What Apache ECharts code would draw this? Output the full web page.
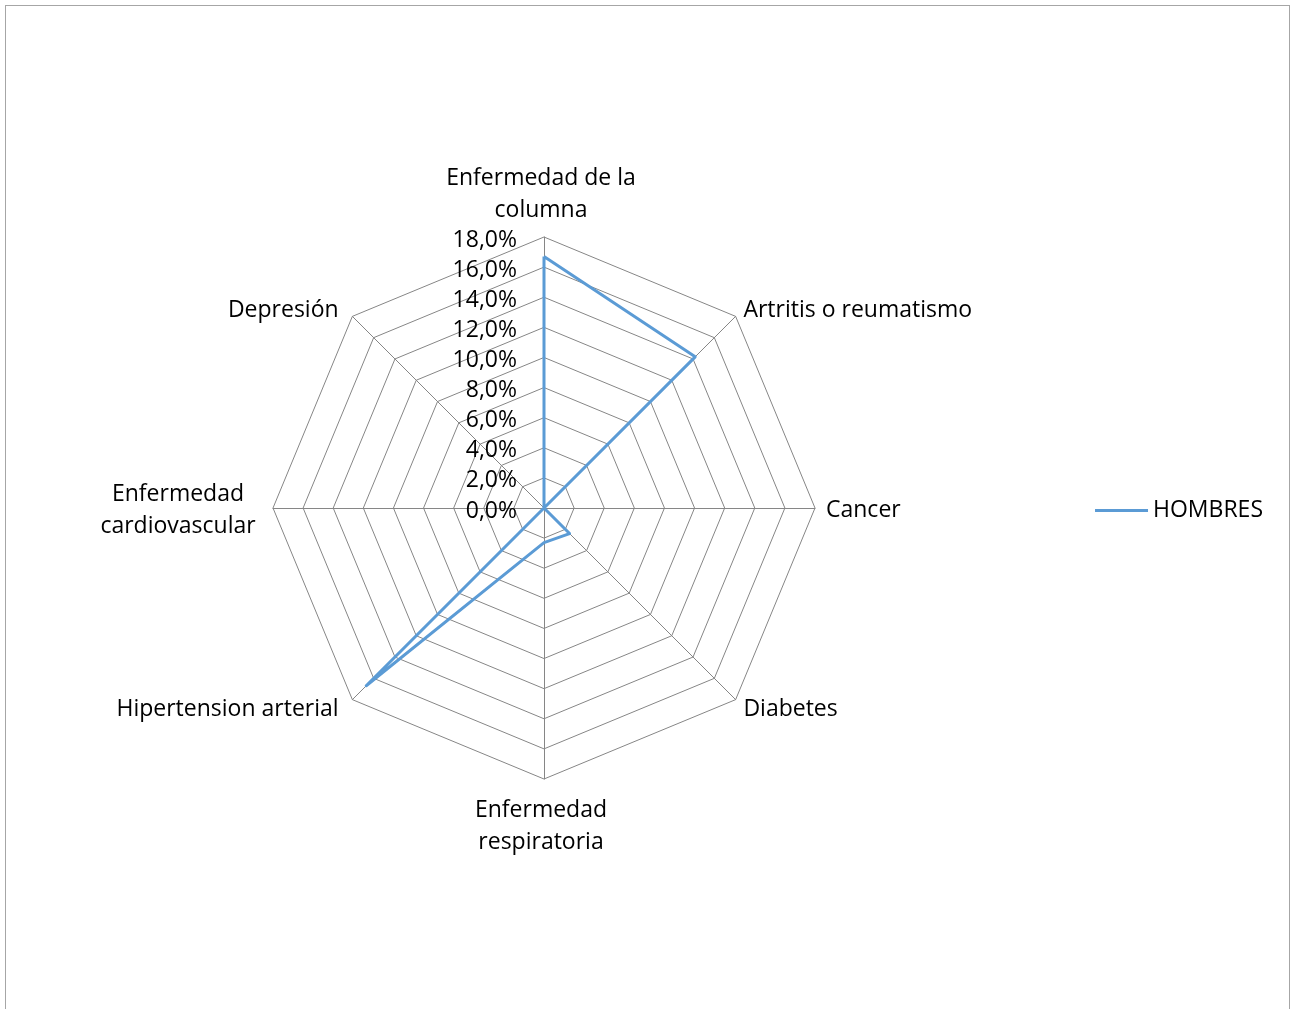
<!DOCTYPE html>
<html>
<head>
<meta charset="utf-8">
<script src="https://cdn.jsdelivr.net/npm/echarts@6/dist/echarts.min.js"></script>
<style>
  html, body { margin: 0; padding: 0; background: #fff; overflow: hidden; }
  #frame { position: absolute; left: 5px; top: 5px; width: 1285px; height: 1020px; border: 1px solid #a6a6a6; box-sizing: border-box; }
  #chart { position: absolute; left: 0; top: 0; width: 1297px; height: 1009px; }
</style>
</head>
<body>
<div id="frame"></div>
<div id="chart"></div>
<script>
// Disease categories, clockwise from the top
const categories = [
  'Enfermedad de la\ncolumna',
  'Artritis o reumatismo',
  'Cancer',
  'Diabetes',
  'Enfermedad\nrespiratoria',
  'Hipertension arterial',
  'Enfermedad\ncardiovascular',
  'Depresión'
];
// Percentage of men (HOMBRES) per category
const hombres = [16.7, 14.2, 0.0, 2.4, 2.3, 16.7, 0.0, 0.0];
const seriesName = 'HOMBRES';
const axisMax = 18;
const axisStep = 2;

// ECharts lays radar indicators counter-clockwise, so keep the first
// one at the top and reverse the rest to read clockwise.
const order = [0].concat(categories.map((_, i) => i).slice(1).reverse());

const FONT = 'Open Sans';
const FONT_SIZE = 23;

// Widest line of a multi-line name, so its lines can be centred on each other
const measureCtx = document.createElement('canvas').getContext('2d');
measureCtx.font = FONT_SIZE + 'px "' + FONT + '"';
function widestLine(text) {
  return Math.ceil(Math.max.apply(null, text.split('\n').map(l => measureCtx.measureText(l).width)));
}

const chart = echarts.init(document.getElementById('chart'));

chart.setOption({
  animation: false,
  textStyle: { fontFamily: FONT },
  legend: {
    data: [seriesName],
    right: 29,
    top: 494,
    icon: 'rect',
    itemWidth: 53,
    itemHeight: 3,
    itemGap: 5,
    textStyle: { fontFamily: FONT, fontSize: FONT_SIZE, color: '#000', padding: [0, 0, 0, 0] }
  },
  radar: {
    center: [544, 508],
    radius: 271,
    startAngle: 90,
    shape: 'polygon',
    splitNumber: axisMax / axisStep,
    axisName: {
      color: '#000',
      fontFamily: FONT,
      fontSize: FONT_SIZE,
      lineHeight: 32,
      padding: [4, 6, 0, 0],
      formatter: function (name) {
        if (name.indexOf('\n') < 0) return name;
        return name.split('\n').map(l => '{c|' + l + '}').join('\n');
      },
      rich: {
        c: { fontFamily: FONT, fontSize: FONT_SIZE, lineHeight: 32, color: '#000', align: 'center',
             width: widestLine('Enfermedad\ncardiovascular') }
      }
    },
    nameGap: 11,
    axisLine: { lineStyle: { color: '#868686', width: 1 } },
    splitLine: { lineStyle: { color: '#868686', width: 1 } },
    splitArea: { show: false },
    axisTick: { show: false },
    axisLabel: { show: false },
    indicator: order.map((i, k) => {
      const ind = { name: categories[i], min: 0, max: axisMax };
      if (k === 0) {
        ind.axisLabel = {
          show: true,
          color: '#000',
          fontFamily: FONT,
          fontSize: FONT_SIZE,
          margin: 27,
          formatter: v => '{v|' + v.toFixed(1).replace('.', ',') + '%}',
          rich: {
            v: { fontFamily: FONT, fontSize: FONT_SIZE, color: '#000', padding: [6, 0, 0, 0] }
          }
        };
      }
      return ind;
    })
  },
  series: [{
    name: seriesName,
    type: 'radar',
    symbol: 'none',
    lineStyle: { color: '#5B9BD5', width: 3 },
    itemStyle: { color: '#5B9BD5' },
    data: [{ name: seriesName, value: order.map(i => hombres[i]) }]
  }]
});
</script>
</body>
</html>
